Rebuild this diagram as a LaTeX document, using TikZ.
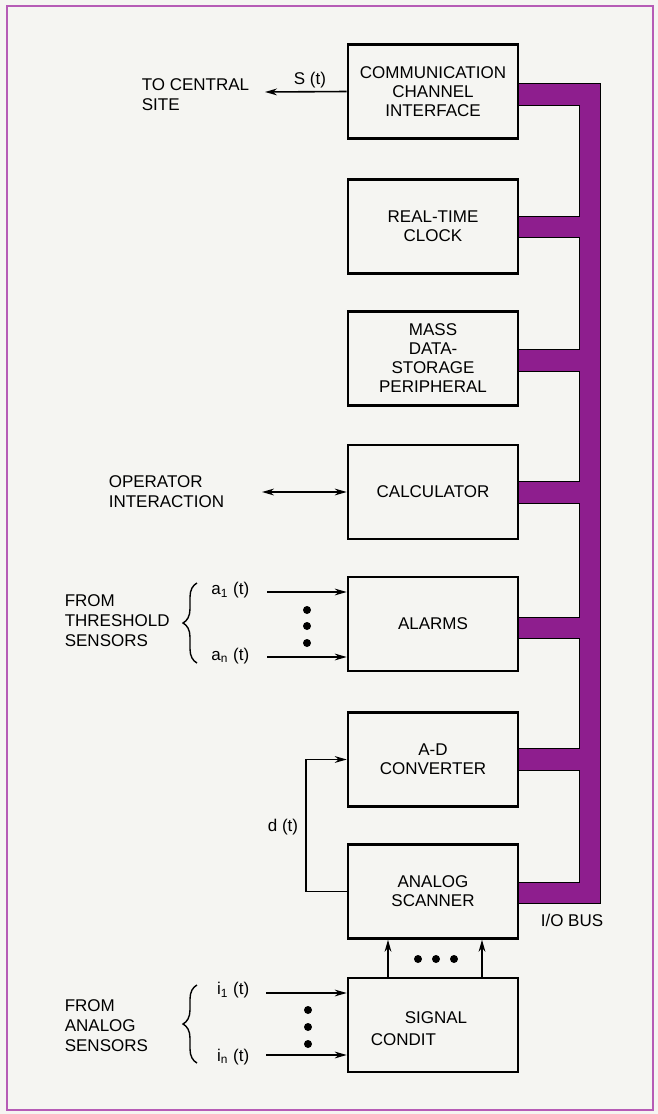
\documentclass[tikz,border=0pt]{standalone}
\usepackage{fontspec}
\setmainfont{Liberation Sans}
\usetikzlibrary{arrows.meta,decorations.pathreplacing}
\definecolor{busmag}{RGB}{142,30,142}
\definecolor{framemag}{RGB}{182,92,182}
\definecolor{paper}{RGB}{245,245,242}

\begin{document}
\begin{tikzpicture}[x=0.5pt,y=-0.5pt,line width=0.8pt,
  >={Stealth[length=6pt,width=3.4pt]},
  box/.style={draw,line width=1.3pt,fill=paper,minimum width=85pt,minimum height=47pt,
    align=center,inner sep=0pt,font=\fontsize{8.5}{9.5}\selectfont},
  lbl/.style={align=left,anchor=west,inner sep=0pt,font=\fontsize{8.5}{10}\selectfont},
  sig/.style={inner sep=0pt,font=\fontsize{8.5}{10}\selectfont},
  dot/.style={fill=black},
  brc/.style={decorate,decoration={brace,amplitude=7pt},line width=0.7pt}]
\useasboundingbox (0,0) rectangle (658,1114);
\fill[paper] (0,0) rectangle (658,1114);
\draw[framemag,line width=1pt] (7,6) rectangle (653,1110);

% I/O bus
\draw[fill=busmag,line width=0.5pt] (518,83) -- (600,83) -- (600,903) -- (518,903) -- (518,882)
  -- (579,882) -- (579,770) -- (518,770) -- (518,748) -- (579,748) -- (579,638) -- (518,638)
  -- (518,617) -- (579,617) -- (579,503) -- (518,503) -- (518,481) -- (579,481) -- (579,371)
  -- (518,371) -- (518,349) -- (579,349) -- (579,237) -- (518,237) -- (518,216) -- (579,216)
  -- (579,105) -- (518,105) -- cycle;
\node[sig] (iobus) at (572,920) {I/O BUS};

% Boxes
\node[box] (comm) at (433,91.5) {COMMUNICATION\\CHANNEL\\INTERFACE};
\node[box] (rtc) at (433,226.5) {REAL-TIME\\CLOCK};
\node[box] (mass) at (433,358.5) {MASS\\DATA-\\STORAGE\\PERIPHERAL};
\node[box] (calc) at (433,492) {CALCULATOR};
\node[box] (alarm) at (433,624) {ALARMS};
\node[box] (adc) at (433,759.5) {A-D\\CONVERTER};
\node[box] (scan) at (433,891.5) {ANALOG\\SCANNER};
\node[box] (cond) at (433,1025) {};
\node[sig] (condA) at (436,1018) {SIGNAL};
\node[sig,anchor=west] (condB) at (370,1040) {CONDIT};

% To central site
\coordinate (central) at (265,92);
\draw[->] (comm.west) -- (central);
\node[sig] (st) at (310,80) {S (t)};
\node[lbl] (central-lbl) at (141,95) {TO CENTRAL\\SITE};

% Operator interaction
\coordinate (oper) at (262,492);
\draw[<->] (oper) -- (calc.west);
\node[lbl] (oper-lbl) at (108,492) {OPERATOR\\INTERACTION};

% Threshold sensors
\coordinate (a1) at (267,592);
\coordinate (an) at (267,657);
\draw[->] (a1) -- (a1 -| alarm.west);
\draw[->] (an) -- (an -| alarm.west);
\node[sig,anchor=east] (a1-lbl) at (250,590) {a\textsubscript{1} (t)};
\node[sig,anchor=east] (an-lbl) at (250,656) {a\textsubscript{n} (t)};
\fill[dot] (307,610) circle (4);
\fill[dot] (307,626) circle (4);
\fill[dot] (307,643) circle (4);
\draw[brc] (197,663) -- (197,583);
\node[lbl] (thr-lbl) at (64,621) {FROM\\THRESHOLD\\SENSORS};

% Converter feed
\draw[->] (scan.west) -- ++(-41,0) |- (adc.west);
\node[sig] (dt) at (283,827) {d (t)};

% Signal conditioner to scanner
\draw[->] ([xshift=-22.5pt]cond.north) -- ([xshift=-22.5pt]scan.south);
\draw[->] ([xshift=24.5pt]cond.north) -- ([xshift=24.5pt]scan.south);
\fill[dot] (418,959) circle (4);
\fill[dot] (436,959) circle (4);
\fill[dot] (454,959) circle (4);

% Analog sensors
\coordinate (i1) at (266,993);
\coordinate (in) at (266,1055);
\draw[->] (i1) -- (i1 -| cond.west);
\draw[->] (in) -- (in -| cond.west);
\node[sig,anchor=east] (i1-lbl) at (250,990) {i\textsubscript{1} (t)};
\node[sig,anchor=east] (in-lbl) at (250,1057) {i\textsubscript{n} (t)};
\fill[dot] (308,1010) circle (4);
\fill[dot] (308,1027) circle (4);
\fill[dot] (308,1044) circle (4);
\draw[brc] (197,1063) -- (197,985);
\node[lbl] (ana-lbl) at (64,1026) {FROM\\ANALOG\\SENSORS};
\end{tikzpicture}
\end{document}
